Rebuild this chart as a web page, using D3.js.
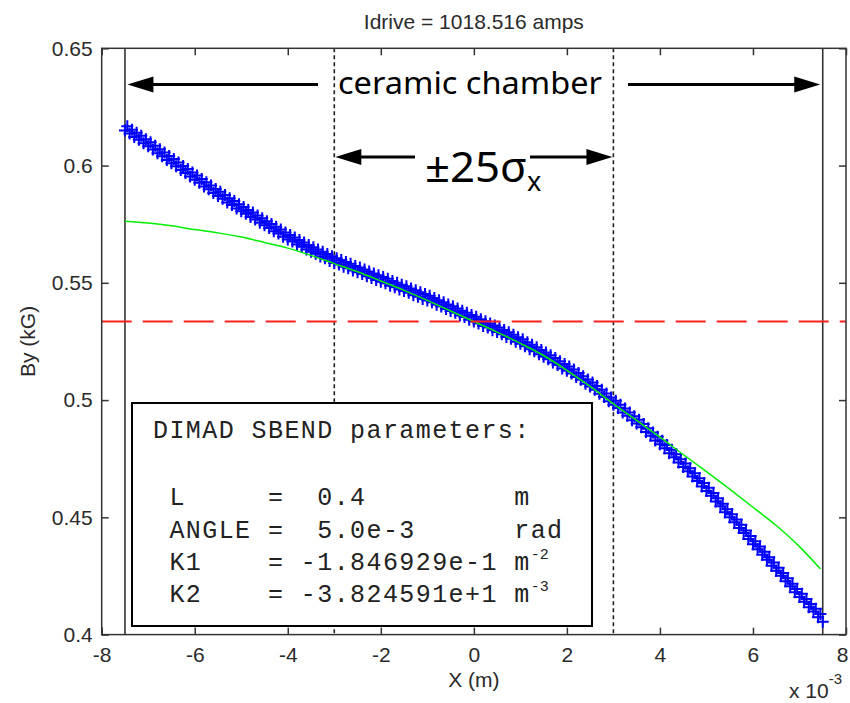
<!DOCTYPE html>
<html>
<head>
<meta charset="utf-8">
<script src="https://cdn.jsdelivr.net/npm/d3@7"></script>
<style>
  html, body { margin: 0; padding: 0; background: #fff; }
  svg { display: block; }
</style>
</head>
<body>
<svg id="chart" width="850" height="703"></svg>
<script>
// ---------------- data ----------------
const titleText = "Idrive = 1018.516 amps";
const xTicks = [-8, -6, -4, -2, 0, 2, 4, 6, 8];
const xTickLabels = ["-8", "-6", "-4", "-2", "0", "2", "4", "6", "8"];
const yTicks = [0.4, 0.45, 0.5, 0.55, 0.6, 0.65];
const yTickLabels = ["0.4", "0.45", "0.5", "0.55", "0.6", "0.65"];

// measured By (kG), scan 1: X = -7.5 ... 7.5 (x1e-3 m), step 0.1
const scan1Start = -7.5, scanStep = 0.1;
const scan1By = [
  0.6150, 0.6137, 0.6122, 0.6110, 0.6095, 0.6082, 0.6068, 0.6053, 0.6040, 0.6024,
  0.6010, 0.5997, 0.5981, 0.5968, 0.5953, 0.5940, 0.5927, 0.5911, 0.5899, 0.5883,
  0.5870, 0.5858, 0.5843, 0.5832, 0.5817, 0.5805, 0.5794, 0.5781, 0.5770, 0.5756,
  0.5745, 0.5734, 0.5720, 0.5710, 0.5696, 0.5685, 0.5676, 0.5663, 0.5654, 0.5642,
  0.5633, 0.5624, 0.5612, 0.5605, 0.5593, 0.5585, 0.5578, 0.5568, 0.5562, 0.5552,
  0.5545, 0.5538, 0.5528, 0.5521, 0.5512, 0.5505, 0.5498, 0.5488, 0.5481, 0.5472,
  0.5465, 0.5458, 0.5447, 0.5441, 0.5431, 0.5425, 0.5417, 0.5406, 0.5399, 0.5388,
  0.5380, 0.5372, 0.5361, 0.5354, 0.5343, 0.5335, 0.5327, 0.5316, 0.5309, 0.5298,
  0.5290, 0.5281, 0.5269, 0.5261, 0.5249, 0.5240, 0.5230, 0.5217, 0.5208, 0.5195,
  0.5185, 0.5174, 0.5160, 0.5150, 0.5135, 0.5125, 0.5113, 0.5098, 0.5087, 0.5070,
  0.5058, 0.5044, 0.5027, 0.5013, 0.4995, 0.4980, 0.4966, 0.4947, 0.4933, 0.4914,
  0.4900, 0.4884, 0.4864, 0.4848, 0.4828, 0.4812, 0.4795, 0.4773, 0.4756, 0.4734,
  0.4715, 0.4697, 0.4674, 0.4655, 0.4632, 0.4612, 0.4592, 0.4568, 0.4547, 0.4522,
  0.4500, 0.4479, 0.4455, 0.4433, 0.4408, 0.4385, 0.4364, 0.4340, 0.4319, 0.4294,
  0.4272, 0.4251, 0.4227, 0.4206, 0.4181, 0.4160, 0.4140, 0.4117, 0.4098, 0.4074,
  0.4055
];
// measured By (kG), scan 2: X = -7.45 ... 7.45, step 0.1
const scan2Start = -7.45;
const scan2By = [
  0.6168, 0.6153, 0.6140, 0.6127, 0.6112, 0.6099, 0.6085, 0.6070, 0.6056, 0.6041,
  0.6028, 0.6013, 0.5998, 0.5985, 0.5970, 0.5958, 0.5943, 0.5929, 0.5915, 0.5900,
  0.5888, 0.5875, 0.5861, 0.5849, 0.5835, 0.5823, 0.5811, 0.5800, 0.5787, 0.5775,
  0.5763, 0.5751, 0.5739, 0.5727, 0.5715, 0.5704, 0.5693, 0.5683, 0.5672, 0.5661,
  0.5652, 0.5642, 0.5633, 0.5623, 0.5613, 0.5605, 0.5597, 0.5589, 0.5581, 0.5572,
  0.5565, 0.5557, 0.5548, 0.5540, 0.5532, 0.5525, 0.5517, 0.5508, 0.5500, 0.5492,
  0.5485, 0.5476, 0.5468, 0.5460, 0.5452, 0.5445, 0.5435, 0.5426, 0.5417, 0.5408,
  0.5400, 0.5390, 0.5381, 0.5372, 0.5363, 0.5355, 0.5345, 0.5336, 0.5327, 0.5318,
  0.5309, 0.5299, 0.5289, 0.5279, 0.5268, 0.5259, 0.5247, 0.5236, 0.5225, 0.5214,
  0.5203, 0.5191, 0.5179, 0.5166, 0.5154, 0.5143, 0.5130, 0.5116, 0.5102, 0.5088,
  0.5075, 0.5060, 0.5044, 0.5028, 0.5011, 0.4997, 0.4980, 0.4964, 0.4947, 0.4931,
  0.4916, 0.4898, 0.4880, 0.4862, 0.4844, 0.4827, 0.4808, 0.4788, 0.4769, 0.4748,
  0.4730, 0.4709, 0.4688, 0.4667, 0.4646, 0.4626, 0.4604, 0.4581, 0.4558, 0.4535,
  0.4513, 0.4491, 0.4468, 0.4444, 0.4420, 0.4398, 0.4376, 0.4353, 0.4330, 0.4307,
  0.4285, 0.4263, 0.4240, 0.4217, 0.4194, 0.4174, 0.4152, 0.4131, 0.4110, 0.4088
];
const scan1X = scan1By.map((_, i) => +(scan1Start + i * scanStep).toFixed(2));
const scan2X = scan2By.map((_, i) => +(scan2Start + i * scanStep).toFixed(2));

// DIMAD SBEND model (green)
const fitX  = [-7.5, -7, -6.5, -6, -5.5, -5, -4.5, -4, -3.5, -3, -2.5, -2, -1.5, -1, -0.5, 0,
               0.5, 1, 1.5, 2, 2.5, 3, 3.5, 4, 4.5, 5, 5.5, 6, 6.5, 7, 7.45];
const fitBy = [0.5763, 0.5755, 0.5743, 0.5727, 0.5713, 0.5695, 0.5672, 0.5648, 0.5617, 0.5582,
               0.5547, 0.5508, 0.5468, 0.5425, 0.5380, 0.5335, 0.5290, 0.5242, 0.5190, 0.5127,
               0.5058, 0.4984, 0.4913, 0.4842, 0.4768, 0.4695, 0.4620, 0.4543, 0.4465, 0.4375, 0.4280];

const refBy = 0.5335;                 // red dashed level
const chamberX = [-7.5, 7.5];         // ceramic chamber walls
const sigmaX = [-3, 3];               // ±25 sigma_x
const paramHeader = "DIMAD SBEND parameters:";
const paramRows = [
  [" L     =  0.4         ", "m", ""],
  [" ANGLE =  5.0e-3      ", "rad", ""],
  [" K1    = -1.846929e-1 ", "m", "-2"],
  [" K2    = -3.824591e+1 ", "m", "-3"]
];

// ---------------- layout ----------------
const svg = d3.select("#chart");
const L = 101.7, R = 846, T = 48.3, B = 634.6;
const x = d3.scaleLinear().domain([-8, 8]).range([L, R]);
const y = d3.scaleLinear().domain([0.4, 0.65]).range([B, T]);
const axisColor = "#333";
const txtColor = "#2a2a2a";
const sans = "'Liberation Sans', Arial, sans-serif";

// title
svg.append("text").attr("x", (L + R) / 2).attr("y", 29)
  .attr("text-anchor", "middle").attr("font-family", sans).attr("font-size", 21)
  .attr("fill", txtColor).text(titleText);

// data layers
const g = svg.append("g");

g.selectAll(".cw").data(chamberX).enter().append("line")
  .attr("x1", d => x(d)).attr("x2", d => x(d)).attr("y1", T).attr("y2", B)
  .attr("stroke", "#333").attr("stroke-width", 1.6);

g.selectAll(".sx").data(sigmaX).enter().append("line")
  .attr("x1", d => x(d)).attr("x2", d => x(d)).attr("y1", T).attr("y2", B)
  .attr("stroke", "#222").attr("stroke-width", 1.6).attr("stroke-dasharray", "4,3");

// measured crosses
const meas = scan1X.map((xv, i) => [xv, scan1By[i]])
  .concat(scan2X.map((xv, i) => [xv, scan2By[i]]));
g.append("g").selectAll("path").data(meas).enter().append("path")
  .attr("transform", d => `translate(${x(d[0])},${y(d[1])})`)
  .attr("d", "M-6,0H6M0,-6V6")
  .attr("stroke", "#0000ff").attr("stroke-width", 2).attr("fill", "none");

// fit line
g.append("path").datum(fitX.map((xv, i) => [xv, fitBy[i]]))
  .attr("d", d3.line().x(d => x(d[0])).y(d => y(d[1])).curve(d3.curveMonotoneX))
  .attr("fill", "none").attr("stroke", "#00ee00").attr("stroke-width", 1.5);

// red reference
g.append("line").attr("x1", L).attr("x2", R).attr("y1", y(refBy)).attr("y2", y(refBy))
  .attr("stroke", "#ff2020").attr("stroke-width", 1.8).attr("stroke-dasharray", "30,11");

// ---------------- axes ----------------
const tickLen = 7;
const axG = svg.append("g");
axG.append("rect").attr("x", L).attr("y", T).attr("width", R - L).attr("height", B - T)
  .attr("fill", "none").attr("stroke", axisColor).attr("stroke-width", 1.5);

const xAxisB = d3.axisBottom(x).tickValues(xTicks).tickSize(-tickLen).tickPadding(12)
  .tickFormat((d, i) => xTickLabels[i]);
const gxb = axG.append("g").attr("transform", `translate(0,${B})`).call(xAxisB);
const xAxisT = d3.axisTop(x).tickValues(xTicks).tickSize(-tickLen).tickFormat("");
const gxt = axG.append("g").attr("transform", `translate(0,${T})`).call(xAxisT);
const yAxisL = d3.axisLeft(y).tickValues(yTicks).tickSize(-tickLen).tickPadding(9)
  .tickFormat((d, i) => yTickLabels[i]);
const gyl = axG.append("g").attr("transform", `translate(${L},0)`).call(yAxisL);
const yAxisR = d3.axisRight(y).tickValues(yTicks).tickSize(-tickLen).tickFormat("");
const gyr = axG.append("g").attr("transform", `translate(${R},0)`).call(yAxisR);
[gxb, gxt, gyl, gyr].forEach(a => {
  a.select(".domain").remove();
  a.selectAll(".tick line").attr("stroke", axisColor).attr("stroke-width", 1.5);
  a.selectAll(".tick text").attr("font-family", sans).attr("font-size", 21).attr("fill", txtColor);
});
gxb.selectAll(".tick text").attr("dy", "0.71em");
gxb.selectAll(".tick").filter(d => d === 8).select("text").attr("text-anchor", "end").attr("dx", 2);

// axis labels
svg.append("text").attr("x", (L + R) / 2).attr("y", 687).attr("text-anchor", "middle")
  .attr("font-family", sans).attr("font-size", 21).attr("fill", txtColor).text("X (m)");
svg.append("text").attr("transform", `translate(35,${(T + B) / 2}) rotate(-90)`)
  .attr("text-anchor", "middle").attr("font-family", sans).attr("font-size", 21)
  .attr("fill", txtColor).text("By (kG)");
const mult = svg.append("text").attr("x", 789).attr("y", 698).attr("font-family", sans)
  .attr("font-size", 21).attr("fill", txtColor);
mult.append("tspan").text("x 10");
mult.append("tspan").attr("font-size", 15).attr("dy", -14).text("-3");

// ---------------- annotations ----------------
function arrow(x1, x2, yy) {
  const dir = Math.sign(x2 - x1), hl = 26, hw = 8;
  svg.append("line").attr("x1", x1).attr("x2", x2 - dir * hl * 0.8).attr("y1", yy).attr("y2", yy)
    .attr("stroke", "#000").attr("stroke-width", 3);
  svg.append("path")
    .attr("d", `M${x2},${yy}L${x2 - dir * hl},${yy - hw}L${x2 - dir * hl},${yy + hw}Z`)
    .attr("fill", "#000");
}
const annY1 = 84.5, annY2 = 157;
arrow(318, x(chamberX[0]) + 2.5, annY1);
arrow(628, x(chamberX[1]) - 2.5, annY1);
svg.append("text").attr("x", 338).attr("y", 94).attr("font-family", "'Noto Sans', 'Open Sans', sans-serif")
  .attr("font-size", 31).attr("fill", "#000").attr("textLength", 264)
  .attr("lengthAdjust", "spacingAndGlyphs").text("ceramic chamber");

arrow(415, x(sigmaX[0]) + 1, annY2);
arrow(530, x(sigmaX[1]) - 1, annY2);
const sig = svg.append("text").attr("x", 425).attr("y", 182)
  .attr("font-family", "'Noto Sans', 'Open Sans', sans-serif").attr("font-size", 42).attr("fill", "#000");
sig.append("tspan").attr("textLength", 102).attr("lengthAdjust", "spacingAndGlyphs").text("±25σ");
sig.append("tspan").attr("font-size", 27).attr("dy", 9).text("x");

// parameter box
const boxX = 132, boxY = 403, boxW = 460, boxH = 223;
svg.append("rect").attr("x", boxX).attr("y", boxY).attr("width", boxW).attr("height", boxH)
  .attr("fill", "#fff").attr("stroke", "#000").attr("stroke-width", 2);
const mono = "'Liberation Mono', 'Courier New', monospace";
const monoSize = 25;
const charW = 16.42;
const spacing = charW - 0.6 * monoSize;
svg.append("text").attr("x", 153).attr("y", 438).attr("font-family", mono).attr("font-size", monoSize)
  .attr("fill", "#222").attr("letter-spacing", spacing)
  .style("white-space", "pre").text(paramHeader);
const rowY = [505, 537.5, 570, 602];
paramRows.forEach((r, i) => {
  const t = svg.append("text").attr("x", 153).attr("y", rowY[i]).attr("font-family", mono)
    .attr("font-size", monoSize).attr("fill", "#222").attr("letter-spacing", spacing)
    .style("white-space", "pre");
  t.append("tspan").attr("x", 153).text(r[0]);
  t.append("tspan").attr("x", 153 + r[0].length * charW).text(r[1]);
  if (r[2]) t.append("tspan").attr("font-size", 15).attr("dy", -11).attr("letter-spacing", 0).text(r[2]);
});
</script>
</body>
</html>
